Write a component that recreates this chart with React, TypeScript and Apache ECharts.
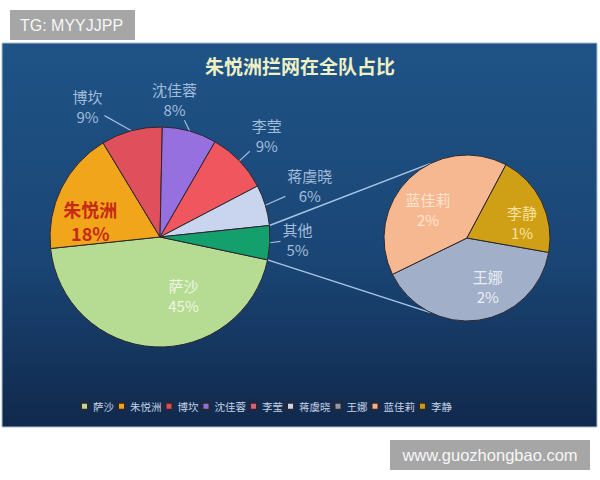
import React, { useEffect, useRef } from 'react';
import * as echarts from 'echarts';

const titleText = '朱悦洲拦网在全队占比';
const mainNames = ['萨沙', '朱悦洲', '博坎', '沈佳蓉', '李莹', '蒋虞晓', '其他'];
const mainValues = [45, 18, 9, 8, 9, 6, 5];
const subNames = ['王娜', '蓝佳莉', '李静'];
const subValues = [2, 2, 1];
const legendNames = ['萨沙', '朱悦洲', '博坎', '沈佳蓉', '李莹', '蒋虞晓', '王娜', '蓝佳莉', '李静'];
const watermarkTop = 'TG: MYYJJPP';
const watermarkBottom = 'www.guozhongbao.com';

const mainColors = ['#b6dc94', '#f0a51a', '#e0505c', '#9670de', '#f0565e', '#c9d5ee', '#14a06c'];
const subColors = ['#a2afc8', '#f6b890', '#cfa016'];
const legendColors: Record<string, string> = {
  萨沙: '#b6dc94', 朱悦洲: '#f0a51a', 博坎: '#d84c5c', 沈佳蓉: '#8a72d8', 李莹: '#d8607e',
  蒋虞晓: '#c9d5ee', 王娜: '#8e9ab0', 蓝佳莉: '#f2b08c', 李静: '#c89a1a',
};

// geometry (layout, not data)
const MAIN_C = [160, 237];
const MAIN_R = 110;
const SUB_C = [467, 238];
const SUB_R = 83;
const MAIN_START = 348;
const SUB_START = 350;
// label placement: [distance factor of radius, angle in degrees]
const mainLabelPolar = [[0.57, -68], [0.65, 167], [1.36, 119], [1.26, 84], [1.34, 43.6], [1.44, 19], [1.25, -1]];
const subLabelPolar = [[0.64, -67], [0.58, 144], [0.69, 16]];

const FONT = '"Noto Sans CJK SC", "Noto Sans", sans-serif';
const rad = (d: number) => (d * Math.PI) / 180;
const polar = (c: number[], r: number, a: number) => [c[0] + r * Math.cos(rad(a)), c[1] - r * Math.sin(rad(a))];

function midAngles(values: number[], start: number) {
  const total = values.reduce((s, v) => s + v, 0);
  let a = start;
  return values.map((v) => {
    const span = (v / total) * 360;
    const m = a - span / 2;
    a -= span;
    return m;
  });
}

export default function App() {
  const ref = useRef<HTMLDivElement>(null);
  useEffect(() => {
    if (!ref.current) return;
    const chart = echarts.init(ref.current, undefined, { renderer: 'svg' });
    const total = mainValues.reduce((s, v) => s + v, 0);
    const mainMid = midAngles(mainValues, MAIN_START);
    const otherStart = MAIN_START - (360 * (total - mainValues[mainValues.length - 1])) / total;
    const otherEnd = MAIN_START - 360;
    const p1 = polar(MAIN_C, MAIN_R, otherStart);
    const p2 = polar(MAIN_C, MAIN_R, otherEnd);
    const q1 = polar(SUB_C, SUB_R, 116);
    const q2 = polar(SUB_C, SUB_R, -116);

    const mainData = mainNames.map((n, i) => {
      const item: any = { name: n, value: mainValues[i], itemStyle: { color: mainColors[i] } };
      if (i === 0) {
        item.label = { position: 'inside', color: '#eef6e2', fontSize: 15 };
        item.labelLine = { show: false };
      } else if (i === 1) {
        item.label = { position: 'inside', color: '#c62a16', fontSize: 18, fontWeight: 'bold', lineHeight: 24 };
        item.labelLine = { show: false };
      }
      return item;
    });
    const subLabelColors = ['#e8edf5', '#fde4d2', '#f7e2a0'];
    const subData = subNames.map((n, i) => ({
      name: n, value: subValues[i], itemStyle: { color: subColors[i] }, label: { color: subLabelColors[i] },
    }));

    chart.setOption({
      animation: false,
      graphic: [
        { type: 'rect', shape: { x: 10, y: 10, width: 125, height: 30 }, style: { fill: '#a6a6a6' } },
        { type: 'text', x: 20, y: 25, style: { text: watermarkTop, fill: '#f6f6f6', fontSize: 16, fontFamily: 'Liberation Sans, Arial', verticalAlign: 'middle' } },
        {
          type: 'rect', shape: { x: 2, y: 43, width: 595, height: 384 },
          style: {
            fill: new echarts.graphic.LinearGradient(0, 0, 0, 1, [
              { offset: 0, color: '#1f5386' },
              { offset: 0.55, color: '#1a4676' },
              { offset: 1, color: '#10294c' },
            ]),
            stroke: '#a9bfd4', lineWidth: 1,
          },
        },
        { type: 'line', shape: { x1: p1[0], y1: p1[1], x2: q1[0], y2: q1[1] }, style: { stroke: '#a9c6e4', lineWidth: 1.5 } },
        { type: 'line', shape: { x1: p2[0], y1: p2[1], x2: q2[0], y2: q2[1] }, style: { stroke: '#a9c6e4', lineWidth: 1.5 } },
        { type: 'rect', shape: { x: 390, y: 440, width: 200, height: 30 }, style: { fill: '#a6a6a6' } },
        { type: 'text', x: 490, y: 455, style: { text: watermarkBottom, fill: '#f6f6f6', fontSize: 16.5, fontFamily: 'Liberation Sans, Arial', align: 'center', verticalAlign: 'middle' } },
      ],
      title: {
        text: titleText, left: 'center', top: 56, padding: 0,
        textStyle: { color: '#eef0c6', fontSize: 19, fontWeight: 'bold', fontFamily: FONT },
      },
      legend: {
        data: legendNames.map((n) => ({ name: n, itemStyle: { color: legendColors[n] } })),
        left: 80, top: 401, icon: 'rect', itemWidth: 7, itemHeight: 7, itemGap: 3, padding: 0,
        textStyle: { color: '#c4d0e2', fontSize: 10.5, fontFamily: FONT },
      },
      series: [
        {
          type: 'pie', center: MAIN_C, radius: MAIN_R, startAngle: MAIN_START, clockwise: true,
          data: mainData,
          itemStyle: { borderColor: '#2c2630', borderWidth: 1 },
          label: {
            show: true, position: 'outside', formatter: (p: any) => `${p.name}\n${p.value}%`,
            color: '#a3bcda', fontSize: 15, lineHeight: 20, fontFamily: FONT,
          },
          labelLine: { show: true, lineStyle: { color: '#a3bcda', width: 1.2 }, length: 10, length2: 5 },
          labelLayout: (params: any) => {
            const i = params.dataIndex;
            const [f, a] = mainLabelPolar[i];
            const [x, y] = polar(MAIN_C, MAIN_R * f, a);
            const out: any = { x, y, align: 'center', verticalAlign: 'middle' };
            if (i > 1) {
              const s = polar(MAIN_C, MAIN_R, mainMid[i]);
              const dx = s[0] - x, dy = s[1] - y;
              const hw = params.labelRect.width / 2 + 2, hh = params.labelRect.height / 2 + 1;
              const t = Math.min(Math.abs(dx) > 0.01 ? hw / Math.abs(dx) : 99, Math.abs(dy) > 0.01 ? hh / Math.abs(dy) : 99);
              out.labelLinePoints = [[s[0], s[1]], [x + dx * t, y + dy * t]];
            }
            return out;
          },
          emphasis: { disabled: true },
        },
        {
          type: 'pie', center: SUB_C, radius: SUB_R, startAngle: SUB_START, clockwise: true,
          data: subData,
          itemStyle: { borderColor: '#2c2630', borderWidth: 1 },
          label: {
            show: true, position: 'inside', formatter: (p: any) => `${p.name}\n${p.value}%`,
            fontSize: 15, lineHeight: 20, fontFamily: FONT,
          },
          labelLine: { show: false },
          labelLayout: (params: any) => {
            const [f, a] = subLabelPolar[params.dataIndex];
            const [x, y] = polar(SUB_C, SUB_R * f, a);
            return { x, y, align: 'center', verticalAlign: 'middle' };
          },
          emphasis: { disabled: true },
        },
      ],
    });
    return () => chart.dispose();
  }, []);
  return <div ref={ref} style={{ position: 'absolute', left: 0, top: 0, width: 600, height: 480 }} />;
}
